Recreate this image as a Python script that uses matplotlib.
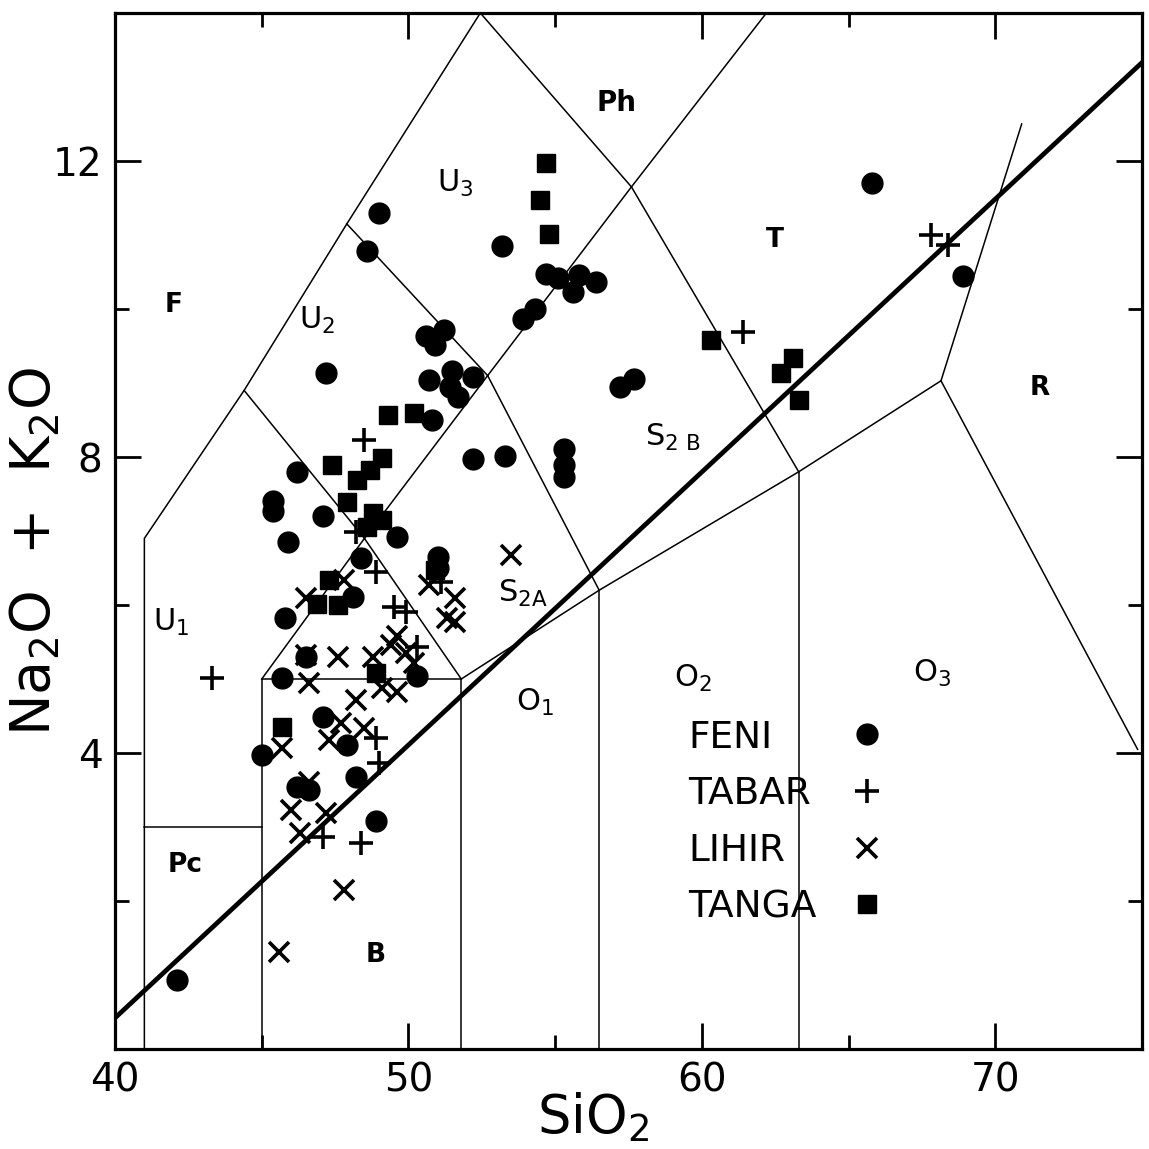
import matplotlib
matplotlib.use("Agg")
import matplotlib.pyplot as plt
from matplotlib.lines import Line2D
from matplotlib.ticker import FixedLocator, MultipleLocator

plt.rcParams['font.family'] = ['DejaVu Sans']
plt.rcParams['mathtext.fontset'] = 'dejavusans'

# =============================
# Data (SiO2, Na2O+K2O)
# =============================
feni_sio2 = [65.8, 68.9, 49.0, 48.6, 53.2, 47.2, 54.7, 55.1, 55.8, 55.6, 56.4, 53.9, 54.3,
             50.6, 51.2, 50.9, 50.7, 51.5, 52.2, 51.4, 51.7, 50.8, 57.2, 57.7, 55.3, 55.3,
             55.3, 52.2, 53.3, 46.2, 45.4, 45.4, 47.1, 45.9, 49.6, 48.4, 48.1, 45.8, 51.0,
             51.0, 45.7, 46.5, 50.3, 47.1, 47.9, 45.0, 46.2, 46.6, 48.2, 48.9, 42.1]
feni_alk = [11.70, 10.45, 11.30, 10.78, 10.85, 9.14, 10.47, 10.42, 10.46, 10.23, 10.36, 9.86, 10.0,
            9.64, 9.72, 9.51, 9.04, 9.16, 9.08, 8.95, 8.81, 8.50, 8.95, 9.05, 8.11, 7.89,
            7.73, 7.97, 8.01, 7.80, 7.41, 7.27, 7.20, 6.85, 6.92, 6.64, 6.11, 5.82, 6.65,
            6.50, 5.01, 5.30, 5.04, 4.49, 4.11, 3.97, 3.54, 3.50, 3.68, 3.08, 0.93]

tabar_sio2 = [67.8, 68.4, 61.4, 48.5, 48.2, 48.9, 49.5, 49.9, 50.3, 51.1, 43.3, 48.9, 49.0, 47.1, 48.4]
tabar_alk = [11.0, 10.86, 9.69, 8.23, 6.99, 6.45, 5.97, 5.91, 5.43, 6.31, 5.01, 4.20, 3.86, 2.86, 2.78]

lihir_sio2 = [53.5, 51.6, 51.6, 51.3, 46.5, 47.8, 46.5, 47.6, 48.8, 46.6, 49.6, 49.9, 50.2, 49.1,
              49.6, 48.2, 47.7, 48.5, 47.3, 45.7, 46.6, 46.0, 47.2, 46.3, 47.8, 45.6, 49.4, 50.7]
lihir_alk = [6.68, 6.09, 5.77, 5.82, 6.09, 6.34, 5.32, 5.30, 5.30, 4.95, 5.58, 5.35, 5.22, 4.88,
             4.82, 4.72, 4.41, 4.34, 4.18, 4.07, 3.61, 3.23, 3.19, 2.92, 2.15, 1.31, 5.46, 6.27]

tanga_sio2 = [54.7, 54.5, 54.8, 60.3, 63.1, 62.7, 63.3, 49.3, 50.2, 47.4, 49.1, 48.25, 48.7,
              47.9, 48.8, 48.6, 47.3, 46.9, 47.6, 48.9, 45.7, 50.9, 49.1]
tanga_alk = [11.97, 11.47, 11.01, 9.58, 9.34, 9.14, 8.77, 8.57, 8.59, 7.89, 7.99, 7.69, 7.82,
             7.39, 7.24, 7.05, 6.34, 6.01, 6.00, 5.08, 4.35, 6.47, 7.15]

groups = ['FENI', 'TABAR', 'LIHIR', 'TANGA']

# field boundaries (SiO2, alkali)
fields = [
    [(41, 0), (41, 6.9), (44.4, 8.9), (47.9, 11.15), (52.45, 14)],
    [(41, 3), (45, 3)],
    [(45, 0), (45, 5), (51.8, 5), (51.8, 0)],
    [(44.4, 8.9), (48.5, 6.9)],
    [(45, 5), (48.5, 6.9), (51.8, 5)],
    [(48.5, 6.9), (52.7, 9.1)],
    [(47.9, 11.15), (52.7, 9.1)],
    [(52.7, 9.1), (57.6, 11.65), (62.2, 14)],
    [(52.45, 14), (57.6, 11.65)],
    [(57.6, 11.65), (63.3, 7.8)],
    [(52.7, 9.1), (56.5, 6.2)],
    [(51.8, 5), (56.5, 6.2), (63.3, 7.8), (68.15, 9.03)],
    [(56.5, 0), (56.5, 6.2)],
    [(63.3, 0), (63.3, 7.8)],
    [(68.15, 9.03), (70.9, 12.5)],
    [(68.15, 9.03), (74.85, 4.05)],
]
divider = [(40, 0.42), (75, 13.33)]

# field labels: (text, x, y, bold, size)
field_labels = [
    ('F', 42.0, 10.05, True, 19),
    ('U$_1$', 41.9, 5.76, False, 22),
    ('U$_2$', 46.9, 9.85, False, 22),
    ('U$_3$', 51.6, 11.7, False, 22),
    ('Ph', 57.1, 12.78, True, 20),
    ('T', 62.5, 10.93, True, 19),
    ('R', 71.5, 8.93, True, 19),
    ('S$_{2\\ \\mathrm{B}}$', 59.0, 8.27, False, 22),
    ('S$_{2\\mathrm{A}}$', 53.9, 6.15, False, 22),
    ('O$_1$', 54.3, 4.68, False, 22),
    ('O$_2$', 59.7, 5.01, False, 22),
    ('O$_3$', 67.85, 5.08, False, 22),
    ('Pc', 42.4, 2.49, True, 19),
    ('B', 48.9, 1.27, True, 19),
]

fig = plt.figure(figsize=(11.49, 11.49), dpi=100)
ax = fig.add_axes([0.1001, 0.087, 0.8938, 0.9017])

for seg in fields:
    xs, ys = zip(*seg)
    ax.plot(xs, ys, color='black', lw=1.1, solid_joinstyle='miter')
xs, ys = zip(*divider)
ax.plot(xs, ys, color='black', lw=3.4)

for txt, x, y, bold, size in field_labels:
    ax.text(x, y, txt, ha='center', va='center', fontsize=size,
            fontweight='bold' if bold else 'normal')

h1, = ax.plot(feni_sio2, feni_alk, 'o', color='black', ms=15, ls='none')
h2, = ax.plot(tabar_sio2, tabar_alk, '+', color='black', ms=17, mew=2.6, ls='none')
h3, = ax.plot(lihir_sio2, lihir_alk, 'x', color='black', ms=15, mew=2.6, ls='none')
h4, = ax.plot(tanga_sio2, tanga_alk, 's', color='black', ms=13, ls='none')

# legend: names left-aligned in one column, symbols in another
blank = [Line2D([], [], ls='none', marker='none') for _ in groups]
leg_txt = ax.legend(blank, groups, loc='upper left', bbox_to_anchor=(0.558, 0.318),
                    frameon=False, fontsize=27, handlelength=0, handletextpad=0,
                    labelspacing=0.55, borderpad=0, borderaxespad=0)
ax.add_artist(leg_txt)
ax.legend([h1, h2, h3, h4], [''] * 4, loc='upper center', bbox_to_anchor=(0.732, 0.318),
          frameon=False, fontsize=27, handlelength=1.2, handletextpad=0,
          labelspacing=0.55, borderpad=0, borderaxespad=0)

ax.set_xlim(40, 75)
ax.set_ylim(0, 14)
ax.xaxis.set_major_locator(MultipleLocator(10))
ax.xaxis.set_minor_locator(MultipleLocator(5))
ax.yaxis.set_major_locator(FixedLocator([4, 8, 12]))
ax.yaxis.set_minor_locator(FixedLocator([2, 6, 10]))
ax.tick_params(which='both', direction='in', top=True, right=True, width=2)
ax.tick_params(which='major', length=19, labelsize=28, pad=9)
ax.tick_params(which='minor', length=10)
for sp in ax.spines.values():
    sp.set_linewidth(2.3)

ax.set_xlabel('SiO$_2$', fontsize=38)
ax.xaxis.set_label_coords(0.465, -0.04)
ax.set_ylabel('Na$_2$O  +  K$_2$O', fontsize=40)
ax.yaxis.set_label_coords(-0.052, 0.48)

fig.savefig('out.png', dpi=100)
